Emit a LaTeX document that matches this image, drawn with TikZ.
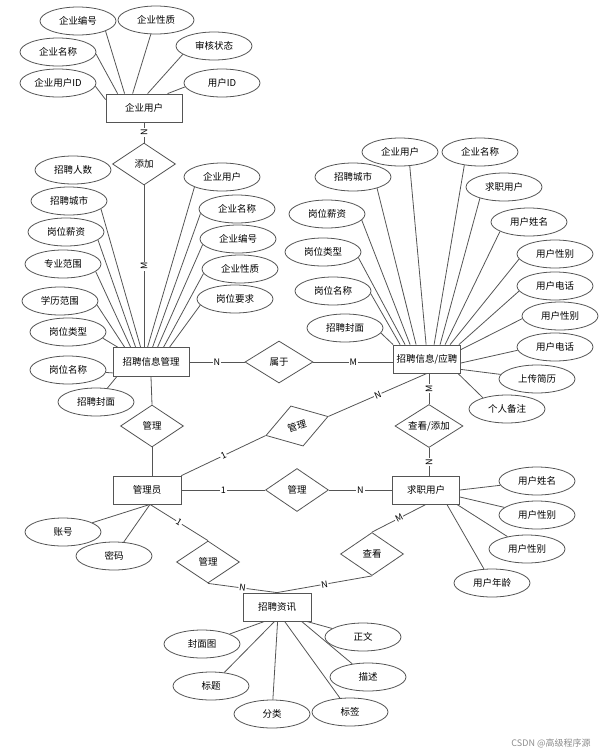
\documentclass[tikz,border=0pt]{standalone}
\usepackage{fontspec}
\setmainfont{Noto Sans CJK SC}
\usetikzlibrary{shapes.geometric,calc}
\definecolor{edgec}{HTML}{555555}
\begin{document}
\begin{tikzpicture}[x=1pt,y=-1pt,
  every node/.style={font=\fontsize{9.5}{11}\selectfont, text=black},
  attr/.style={ellipse, draw=edgec, line width=0.8pt, fill=white, minimum width=76pt, minimum height=28pt, inner sep=0pt},
  ent/.style={rectangle, draw=edgec, line width=0.8pt, fill=white, minimum width=68pt, minimum height=28pt, inner sep=0pt},
  rel/.style={diamond, draw=edgec, line width=0.8pt, fill=white, minimum width=63pt, minimum height=42pt, inner sep=0pt, aspect=1.5},
  conn/.style={draw=edgec, line width=0.8pt},
  lbl/.style={font=\fontsize{9}{10}\selectfont, fill=white, inner sep=0.8pt}
]
\useasboundingbox (0,0) rectangle (608,756);

% ---------- entities ----------
\node[ent, minimum width=76pt] (e1) at (144,108) {企业用户};
\node[ent, minimum width=76pt, minimum height=29pt] (m) at (151,362) {招聘信息管理};
\node[ent, minimum width=67pt] (zp) at (427,359) {招聘信息/应聘};
\node[ent] (admin) at (147,490) {管理员};
\node[ent, minimum width=67pt] (qz) at (426,490) {求职用户};
\node[ent] (zx) at (277,607) {招聘资讯};

% ---------- relationships ----------
\node[rel] (tj) at (144,164) {添加};
\node[rel, minimum width=68pt] (sy) at (279,362) {属于};
\node[rel] (gl1) at (152,426) {管理};
\node[rel, minimum width=65pt, rotate=17] (rd) at (297,426) {管理};
\node[rel, minimum width=68pt, minimum height=43pt] (cktj) at (429,426) {查看/添加};
\node[rel, minimum height=43pt] (gl2) at (297,490) {管理};
\node[rel] (gl3) at (208,562) {管理};
\node[rel, minimum height=43pt] (ck) at (372,554) {查看};

% ---------- attributes of 企业用户 ----------
\node[attr] (a1) at (78,21) {企业编号};
\node[attr] (a2) at (156,20) {企业性质};
\node[attr] (a3) at (58,52) {企业名称};
\node[attr] (a4) at (214,46) {审核状态};
\node[attr] (a5) at (58,83) {企业用户ID};
\node[attr] (a6) at (222,83) {用户ID};
\draw[conn] (a5.-5) -- ($(e1.north west)+(0,6)$);
\draw[conn] (a3.-3) -- ($(e1.north west)+(12,0)$);
\draw[conn] (a1.-20) -- ($(e1.north west)+(19,0)$);
\draw[conn] (a2.-110) -- ($(e1.north west)+(27,0)$);
\draw[conn] (a4.-165) -- ($(e1.north west)+(42,0)$);
\draw[conn] (a6.-174) -- ($(e1.north west)+(62,0)$);

% ---------- attributes of 招聘信息管理 ----------
\node[attr] (b1) at (73,170) {招聘人数};
\node[attr] (b2) at (69,201) {招聘城市};
\node[attr] (b3) at (66,232) {岗位薪资};
\node[attr] (b4) at (63,264) {专业范围};
\node[attr] (b5) at (60,301) {学历范围};
\node[attr] (b6) at (68,332) {岗位类型};
\node[attr] (b7) at (68,370) {岗位名称};
\node[attr] (b8) at (96,402) {招聘封面};
\node[attr] (c1) at (222,177) {企业用户};
\node[attr] (c2) at (237,209) {企业名称};
\node[attr] (c3) at (238,239) {企业编号};
\node[attr] (c4) at (240,269) {企业性质};
\node[attr] (c5) at (235,299) {岗位要求};
\draw[conn] (b2.-14) -- ($(m.north west)+(28,0)$);
\draw[conn] (b3.-14) -- ($(m.north west)+(23,0)$);
\draw[conn] (b4.-13) -- ($(m.north west)+(18,0)$);
\draw[conn] (b5.-6) -- ($(m.north west)+(12,0)$);
\draw[conn] (b6.-10) -- ($(m.north west)+(5,0)$);
\draw[conn] (b7) -- ($(m.south west)+(0,-4)$);
\draw[conn] (b8) -- ($(m.south west)+(4,0)$);
\draw[conn] (c1.-160) -- ($(m.north west)+(35,0)$);
\draw[conn] (c2.-173) -- ($(m.north west)+(40,0)$);
\draw[conn] (c3.-171) -- ($(m.north west)+(45,0)$);
\draw[conn] (c4.-173) -- ($(m.north west)+(51,0)$);
\draw[conn] (c5.-170) -- ($(m.north west)+(57,0)$);

% ---------- attributes of 招聘信息/应聘 ----------
\node[attr] (d1) at (400,152) {企业用户};
\node[attr] (d2) at (480,152) {企业名称};
\node[attr] (d3) at (353,177) {招聘城市};
\node[attr] (d4) at (504,187) {求职用户};
\node[attr] (d5) at (327,214) {岗位薪资};
\node[attr] (d6) at (529,222) {用户姓名};
\node[attr] (d7) at (323,252) {岗位类型};
\node[attr] (d8) at (555,254) {用户性别};
\node[attr] (d9) at (333,291) {岗位名称};
\node[attr] (d10) at (555,286) {用户电话};
\node[attr] (d11) at (560,316) {用户性别};
\node[attr] (d12) at (345,328) {招聘封面};
\node[attr] (d13) at (555,347) {用户电话};
\node[attr] (d14) at (537,379) {上传简历};
\node[attr] (d15) at (507,409) {个人备注};
\draw[conn] (d12.-8) -- (zp.north west);
\draw[conn] (d9.-4) -- ($(zp.north west)+(7,0)$);
\draw[conn] (d7.-9) -- ($(zp.north west)+(12,0)$);
\draw[conn] (d5.-10) -- ($(zp.north west)+(17,0)$);
\draw[conn] (d3.-25) -- ($(zp.north west)+(23,0)$);
\draw[conn] (d1.-55) -- ($(zp.north west)+(33,0)$);
\draw[conn] (d2.-140) -- ($(zp.north west)+(41,0)$);
\draw[conn] (d4.-155) -- ($(zp.north west)+(47,0)$);
\draw[conn] (d6.-162) -- ($(zp.north west)+(52,0)$);
\draw[conn] (d8.-172) -- ($(zp.north west)+(57,0)$);
\draw[conn] (d10.-172) -- ($(zp.north east)+(-2,0)$);
\draw[conn] (d11.-176) -- ($(zp.north east)+(0,5)$);
\draw[conn] (d13.-175) -- ($(zp.east)+(0,4)$);
\draw[conn] (d14) -- ($(zp.south east)+(0,-4)$);
\draw[conn] (d15.155) -- ($(zp.south east)+(-3,0)$);

% ---------- attributes of 求职用户 ----------
\node[attr] (f1) at (537,481) {用户姓名};
\node[attr] (f2) at (537,515) {用户性别};
\node[attr] (f3) at (527,549) {用户性别};
\node[attr] (f4) at (492,583) {用户年龄};
\draw[conn] (f1) -- (qz.east);
\draw[conn] (f2) -- ($(qz.east)+(0,7)$);
\draw[conn] (f3) -- ($(qz.south east)+(-3,0)$);
\draw[conn] (f4) -- ($(qz.south east)+(-13,0)$);

% ---------- attributes of 管理员 ----------
\node[attr] (g1) at (63,532) {账号};
\node[attr] (g2) at (114,556) {密码};
\draw[conn] (g1) -- ($(admin.south)+(3,0)$);
\draw[conn] (g2) -- ($(admin.south)+(3,0)$);

% ---------- attributes of 招聘资讯 ----------
\node[attr] (h1) at (202,644) {封面图};
\node[attr] (h2) at (363,637) {正文};
\node[attr] (h3) at (211,686) {标题};
\node[attr] (h4) at (368,677) {描述};
\node[attr] (h5) at (272,714) {分类};
\node[attr] (h6) at (350,712) {标签};
\draw[conn] (h1) -- ($(zx.south west)+(22,0)$);
\draw[conn] (h3) -- ($(zx.south west)+(32,0)$);
\draw[conn] (h5) -- ($(zx.south west)+(35,0)$);
\draw[conn] (h6) -- ($(zx.south west)+(42,0)$);
\draw[conn] (h4) -- ($(zx.south west)+(59,0)$);
\draw[conn] (h2) -- ($(zx.south west)+(64,0)$);

% ---------- relationship connectors ----------
\draw[conn] (e1.south) -- node[lbl, rotate=90] {N} (tj.north);
\draw[conn] (tj.south) -- node[lbl, rotate=90] {M} (tj.south |- m.north);
\draw[conn] (m.east) -- node[lbl] {N} (sy.west);
\draw[conn] (sy.east) -- node[lbl] {M} (sy.east -| zp.west);
\draw[conn] (m.south) -- (gl1.north);
\draw[conn] (gl1.south) -- (gl1.south |- admin.north);
\draw[conn] (admin.north east) -- node[lbl, sloped] {1} (rd.west);
\draw[conn] (rd.east) -- node[lbl, sloped] {N} (zp.south);
\draw[conn] (cktj.north |- zp.south) -- node[lbl, rotate=90] {M} (cktj.north);
\draw[conn] (cktj.south) -- node[lbl, rotate=90] {N} (cktj.south |- qz.north);
\draw[conn] (admin.east) -- node[lbl] {1} (gl2.west);
\draw[conn] (gl2.east) -- node[lbl] {N} (qz.west);
\draw[conn] ($(admin.south)+(3,0)$) -- node[lbl, sloped] {1} (gl3.north);
\draw[conn] (gl3.south) -- node[lbl, sloped] {N} (zx.north);
\draw[conn] (qz.south) -- node[lbl, sloped] {M} (ck.north);
\draw[conn] (ck.south) -- node[lbl, sloped] {N} (zx.north);

% ---------- watermark ----------
\node[font=\fontsize{9}{10}\selectfont, text=black!45] (wm) at (551,743) {CSDN @高级程序源};
\end{tikzpicture}
\end{document}
